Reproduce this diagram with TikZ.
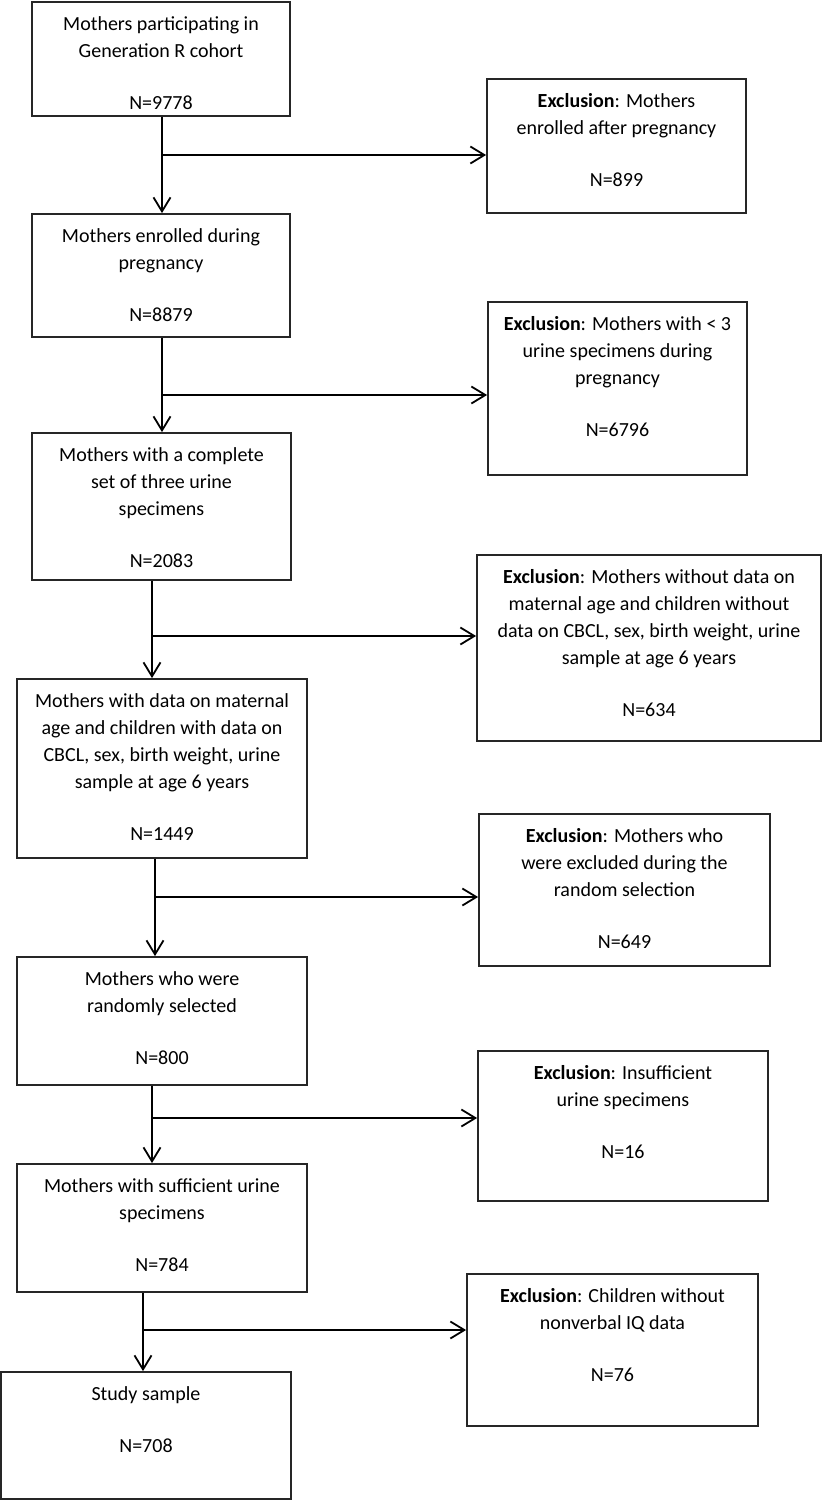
\documentclass[tikz,border=0pt]{standalone}
\usepackage{fontspec}
\setmainfont{Carlito}
\usetikzlibrary{arrows.meta}
\usetikzlibrary{calc}

\begin{document}
\begin{tikzpicture}[x=0.5pt, y=-0.5pt,
  box/.style={draw=black!85, line width=0.9pt, inner sep=0pt},
  boxtext/.style={anchor=north, align=center, inner sep=0pt, font=\fontsize{10}{13.5}\selectfont},
  arr/.style={-{Straight Barb[length=7pt, width=8.5pt]}, line width=0.9pt}]

%─────────────
% Page frame (pixel units of the flow chart)
%─────────────
\useasboundingbox (0,0) rectangle (822,1501);
\def\gap{\\[12.5pt]}  % blank line before the counts

%─────────────────────────────────────────────────────────────
% One box: name, left, top, right, bottom, text (text hangs from the top)
%─────────────────────────────────────────────────────────────
\newcommand{\flowBox}[6]{%
  \node[box, minimum width={(#4-#2)*0.5pt}, minimum height={(#5-#3)*0.5pt}]
    (#1) at ({(#2+#4)/2},{(#3+#5)/2}) {};
  \node[boxtext] (#1t) at ([yshift=-7.5pt]#1.north) {#6};
}

%─────────────
% Main column
%─────────────
\flowBox{b1}{32}{2}{290}{116}{Mothers participating in\\ Generation R cohort\gap N=9778}
\flowBox{b2}{32}{214}{290}{337}{Mothers enrolled during\\ pregnancy\gap N=8879}
\flowBox{b3}{32}{433}{291}{580}{Mothers with a complete\\ set of three urine\\ specimens\gap N=2083}
\flowBox{b4}{17}{679}{307}{858}{Mothers with data on maternal\\ age and children with data on\\ CBCL, sex, birth weight, urine\\ sample at age 6 years\gap N=1449}
\flowBox{b5}{17}{957}{307}{1085}{Mothers who were\\ randomly selected\gap N=800}
\flowBox{b6}{17}{1164}{307}{1292}{Mothers with sufficient urine\\ specimens\gap N=784}
\flowBox{b7}{1}{1372}{291}{1499}{Study sample\gap N=708}

%─────────────
% Exclusions
%─────────────
\flowBox{e1}{487}{79}{746}{213}{\textbf{Exclusion}: Mothers\\ enrolled after pregnancy\gap N=899}
\flowBox{e2}{488}{302}{747}{475}{\textbf{Exclusion}: Mothers with < 3\\ urine specimens during\\ pregnancy\gap N=6796}
\flowBox{e3}{477}{555}{821}{741}{\textbf{Exclusion}: Mothers without data on\\ maternal age and children without\\ data on CBCL, sex, birth weight, urine\\ sample at age 6 years\gap N=634}
\flowBox{e4}{479}{814}{770}{966}{\textbf{Exclusion}: Mothers who\\ were excluded during the\\ random selection\gap N=649}
\flowBox{e5}{478}{1051}{768}{1201}{\textbf{Exclusion}: Insufficient\\ urine specimens\gap N=16}
\flowBox{e6}{467}{1274}{758}{1426}{\textbf{Exclusion}: Children without\\ nonverbal IQ data\gap N=76}

%─────────────
% Branch points
%─────────────
\coordinate (j1) at (162,155);
\coordinate (j2) at (162,395);
\coordinate (j3) at (152,636);
\coordinate (j4) at (155,897);
\coordinate (j5) at (152,1118);
\coordinate (j6) at (143,1330);

% down the column, and off to each exclusion
\draw[arr] (b1.south -| j1) -- (b2.north -| j1);
\draw[arr] (j1) -- (e1.west |- j1);
\draw[arr] (b2.south -| j2) -- (b3.north -| j2);
\draw[arr] (j2) -- (e2.west |- j2);
\draw[arr] (b3.south -| j3) -- (b4.north -| j3);
\draw[arr] (j3) -- (e3.west |- j3);
\draw[arr] (b4.south -| j4) -- (b5.north -| j4);
\draw[arr] (j4) -- (e4.west |- j4);
\draw[arr] (b5.south -| j5) -- (b6.north -| j5);
\draw[arr] (j5) -- (e5.west |- j5);
\draw[arr] (b6.south -| j6) -- (b7.north -| j6);
\draw[arr] (j6) -- (e6.west |- j6);

\end{tikzpicture}
\end{document}
